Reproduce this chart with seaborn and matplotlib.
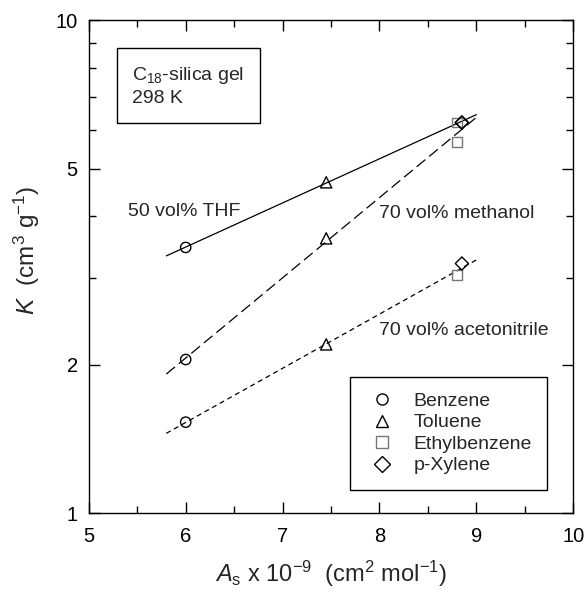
import numpy as np
import pandas as pd
import matplotlib
matplotlib.use("Agg")
import matplotlib.pyplot as plt
from matplotlib.lines import Line2D
from matplotlib.ticker import FixedLocator, NullFormatter
import seaborn as sns

sns.set_theme(style="ticks")
plt.rcParams['font.family'] = ['Liberation Sans', 'DejaVu Sans']
plt.rcParams['mathtext.fontset'] = 'custom'
plt.rcParams['mathtext.rm'] = 'Liberation Sans'
plt.rcParams['mathtext.it'] = 'Liberation Sans:italic'

# Data
compounds = ["Benzene", "Toluene", "Ethylbenzene", "p-Xylene"]
As_values = [6.0, 7.45, 8.8, 8.85]
K_thf = [3.46, 4.69, 6.2, 6.2]
K_methanol = [2.05, 3.61, 5.66, 6.2]
K_acetonitrile = [1.53, 2.20, 3.04, 3.21]
solvents = ["50 vol% THF", "70 vol% methanol", "70 vol% acetonitrile"]

rows = []
for solv, vals in zip(solvents, [K_thf, K_methanol, K_acetonitrile]):
    for c, x, k in zip(compounds, As_values, vals):
        rows.append(dict(solvent=solv, compound=c, As=x, K=k))
df = pd.DataFrame(rows)

markers = {"Benzene": "o", "Toluene": "^", "Ethylbenzene": "s", "p-Xylene": "D"}
edge = {"Benzene": "black", "Toluene": "black", "Ethylbenzene": "#777777", "p-Xylene": "black"}
sizes = {"Benzene": 55, "Toluene": 65, "Ethylbenzene": 50, "p-Xylene": 45}
linestyles = {"50 vol% THF": "-", "70 vol% methanol": (0, (9, 4)), "70 vol% acetonitrile": (0, (4, 3))}

fig = plt.figure(figsize=(5.88, 5.94), dpi=100)
ax = fig.add_axes([0.151, 0.136, 0.824, 0.830])
ax.set_yscale("log")

# Fitted lines (log-linear regression)
xfit = np.linspace(5.8, 9.0, 50)
for solv in solvents:
    sub = df[df.solvent == solv]
    p = np.polyfit(sub.As, np.log10(sub.K), 1)
    fit = pd.DataFrame(dict(As=xfit, K=10 ** np.polyval(p, xfit)))
    sns.lineplot(data=fit, x="As", y="K", ax=ax, color="black", lw=0.9,
                 linestyle=linestyles[solv], legend=False)

for c in compounds:
    sub = df[df.compound == c]
    sns.scatterplot(data=sub, x="As", y="K", ax=ax, marker=markers[c], s=sizes[c],
                    facecolors="none", edgecolors=edge[c], linewidths=1.0,
                    legend=False, zorder=3)

ax.set_xlim(5, 10)
ax.set_ylim(1, 10)
ax.set_xticks([5, 6, 7, 8, 9, 10])
ax.set_xticklabels(["5", "6", "7", "8", "9", "10"])
ax.xaxis.set_minor_locator(FixedLocator([5.5, 6.5, 7.5, 8.5, 9.5]))
ax.yaxis.set_major_locator(FixedLocator([1, 2, 5, 10]))
ax.set_yticklabels(["1", "2", "5", "10"])
ax.yaxis.set_minor_locator(FixedLocator([3, 4, 6, 7, 8, 9]))
ax.yaxis.set_minor_formatter(NullFormatter())
ax.tick_params(which="both", direction="in", top=True, right=True, colors="black",
               labelsize=14.5, width=1.0)
ax.tick_params(which="major", length=8, pad=8)
ax.tick_params(axis="x", which="major", pad=10)
ax.tick_params(which="minor", length=5)
for s in ax.spines.values():
    s.set_color("black")
    s.set_linewidth(1.0)

ax.set_xlabel(r"$\it{A}_{\rm s}$ x 10$^{-9}$  (cm$^{2}$ mol$^{-1}$)", fontsize=17, labelpad=9)
ax.set_ylabel(r"$\it{K}$  (cm$^{3}$ g$^{-1}$)", fontsize=17.5)
ax.yaxis.set_label_coords(-0.097, 0.533)

ax.text(5.4, 4.1, "50 vol% THF", fontsize=14, va="center", ha="left")
ax.text(7.99, 4.05, "70 vol% methanol", fontsize=14, va="center", ha="left")
ax.text(7.99, 2.35, "70 vol% acetonitrile", fontsize=14, va="center", ha="left")

ax.text(0.09, 0.866, r"C$_{18}$-silica gel" + "\n298 K", transform=ax.transAxes,
        fontsize=14, va="center", ha="left", linespacing=1.3,
        bbox=dict(boxstyle="square,pad=0.8", fc="white", ec="black", lw=1.0))

handles = [Line2D([], [], marker=markers[c], color="none", markeredgecolor=edge[c],
                  markerfacecolor="none", markersize=8, markeredgewidth=1.0, linestyle="")
           for c in compounds]
leg = ax.legend(handles, compounds, loc="lower right", fontsize=14, frameon=True,
                fancybox=False, edgecolor="black", framealpha=1, borderpad=0.8,
                handletextpad=0.75, labelspacing=0.2, borderaxespad=0,
                handlelength=1.7, bbox_to_anchor=(0.946, 0.047))
leg.get_frame().set_linewidth(1.0)

fig.savefig("out.png", dpi=100, facecolor="white")
